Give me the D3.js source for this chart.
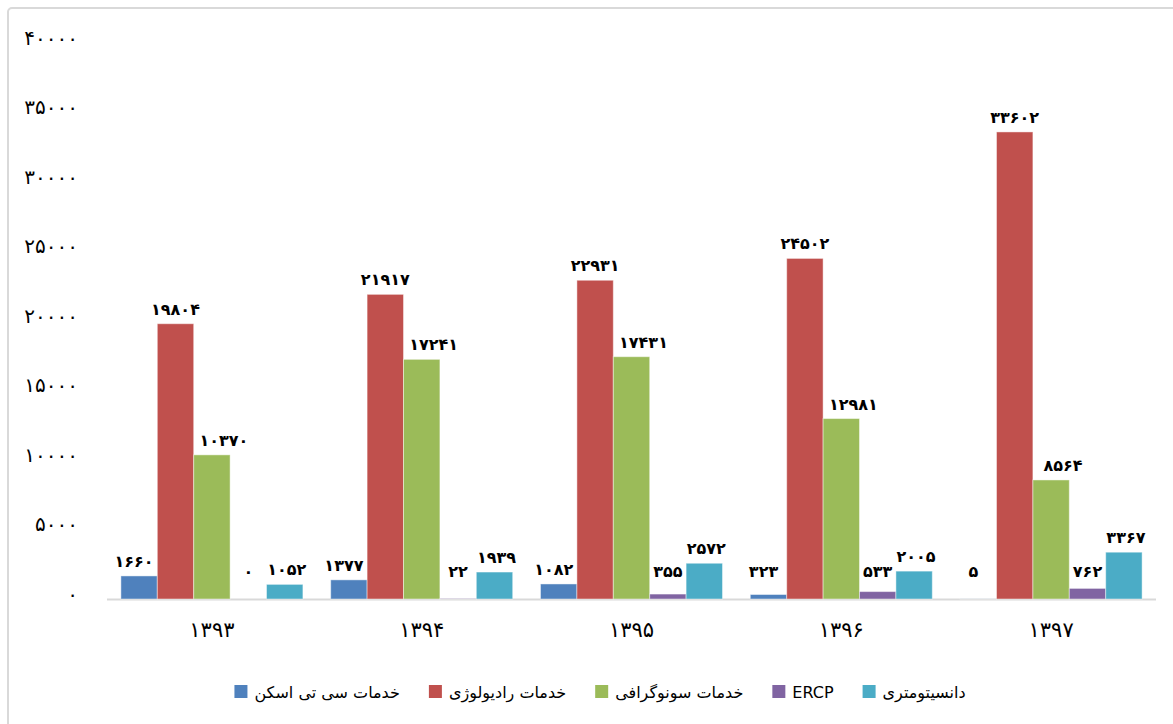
<!DOCTYPE html>
<html lang="fa">
<head>
<meta charset="utf-8">
<script src="https://cdn.jsdelivr.net/npm/d3@7/dist/d3.min.js"></script>
<style>
  html, body { margin: 0; padding: 0; background: #fff; }
  svg { display: block; font-family: "DejaVu Sans", sans-serif; }
</style>
</head>
<body>
<svg id="chart" width="1173" height="724"></svg>
<script>
// Years (Solar Hijri) shown on the category axis
const years = ["۱۳۹۳", "۱۳۹۴", "۱۳۹۵", "۱۳۹۶", "۱۳۹۷"];

// Service names, in legend / bar order
const seriesNames = [
  "خدمات سی تی اسکن",
  "خدمات رادیولوژی",
  "خدمات سونوگرافی",
  "ERCP",
  "دانسیتومتری"
];

// Number of services delivered per year, one array per service
const ctScan      = [1660, 1377, 1082, 323, 5];
const radiology   = [19804, 21917, 22931, 24502, 33602];
const sonography  = [10370, 17241, 17431, 12981, 8564];
const ercp        = [0, 22, 355, 533, 762];
const densitometry = [1052, 1939, 2572, 2005, 3367];

// Value axis ticks
const yTicks = [0, 5000, 10000, 15000, 20000, 25000, 30000, 35000, 40000];

const seriesValues = [ctScan, radiology, sonography, ercp, densitometry];
const colors = ["#4F81BD", "#C0504D", "#9BBB59", "#8064A2", "#4BACC6"];
// small horizontal nudges for the value labels of each series
const labelNudge = [-5, 0, 12, 0, 2];

const toFa = n => String(n).replace(/\d/g, d => "۰۱۲۳۴۵۶۷۸۹"[d]);

const svg = d3.select("#chart");

// outer frame
svg.append("rect")
  .attr("x", 8).attr("y", 8)
  .attr("width", 1180).attr("height", 730)
  .attr("rx", 4)
  .attr("fill", "#fff")
  .attr("stroke", "#d9d9d9")
  .attr("stroke-width", 2);

const plot = { left: 107, right: 1156, top: 43, bottom: 599 };

const x0 = d3.scaleBand()
  .domain(years)
  .range([plot.left, plot.right])
  .paddingInner(0.1325)
  .paddingOuter(0.06625);

const x1 = d3.scaleBand()
  .domain(d3.range(seriesNames.length))
  .range([0, x0.bandwidth()]);

const y = d3.scaleLinear()
  .domain([0, 40000])
  .range([plot.bottom, plot.top]);

// value axis labels (no line, no ticks)
const yAxis = d3.axisLeft(y)
  .tickValues(yTicks)
  .tickSize(0)
  .tickPadding(0)
  .tickFormat(toFa);

svg.append("g")
  .attr("transform", "translate(78,-5)")
  .call(yAxis)
  .call(g => g.select(".domain").remove())
  .call(g => g.selectAll("text")
    .attr("font-family", "DejaVu Sans")
    .attr("font-size", 20)
    .attr("fill", "#000"));

// category axis baseline and labels
const xAxis = d3.axisBottom(x0).tickSize(0).tickPadding(0);
svg.append("g")
  .attr("transform", `translate(0,${plot.bottom})`)
  .call(xAxis)
  .call(g => g.select(".domain")
    .attr("d", `M${plot.left},0.5H${plot.right}`)
    .attr("stroke", "#d9d9d9")
    .attr("stroke-width", 2))
  .call(g => g.selectAll("text")
    .attr("font-family", "DejaVu Sans")
    .attr("font-size", 21)
    .attr("fill", "#000")
    .attr("dy", null)
    .attr("y", 31)
    .attr("dominant-baseline", "central"));

// bars
const rows = years.map((yr, i) => ({
  year: yr,
  values: seriesValues.map((arr, s) => ({ s, v: arr[i] }))
}));

const groups = svg.append("g")
  .selectAll("g")
  .data(rows)
  .join("g")
  .attr("transform", d => `translate(${x0(d.year)},0)`);

groups.selectAll("rect")
  .data(d => d.values)
  .join("rect")
  .attr("x", d => x1(d.s))
  .attr("y", d => y(d.v))
  .attr("width", x1.bandwidth())
  .attr("height", d => y(0) - y(d.v))
  .attr("fill", d => colors[d.s])
  .attr("stroke", "#ffffff")
  .attr("stroke-opacity", 0.45)
  .attr("stroke-width", 1);

// value labels
groups.selectAll("text")
  .data(d => d.values)
  .join("text")
  .attr("x", d => x1(d.s) + x1.bandwidth() / 2 + labelNudge[d.s])
  .attr("y", d => Math.min(y(d.v) - 9, plot.bottom - 22))
  .attr("text-anchor", "middle")
  .attr("font-family", "DejaVu Sans")
  .attr("font-weight", "bold")
  .attr("font-size", 16)
  .attr("fill", "#000")
  .text(d => toFa(d.v));

// legend, laid out left to right and centred under the plot
const legend = svg.append("g").attr("transform", "translate(0,692)");
const items = legend.selectAll("g")
  .data(seriesNames)
  .join("g");

items.append("rect")
  .attr("width", 13).attr("height", 13)
  .attr("y", -7)
  .attr("fill", (d, i) => colors[i]);

items.append("text")
  .attr("x", 20)
  .attr("y", 0)
  .attr("dominant-baseline", "central")
  .attr("font-family", "DejaVu Sans")
  .attr("font-size", 16)
  .attr("fill", "#000")
  .text(d => d);

const gap = 29;
const widths = [];
items.each(function () {
  widths.push(20 + this.querySelector("text").getComputedTextLength());
});
const total = d3.sum(widths) + gap * (widths.length - 1);
let cx = 600 - total / 2;
items.attr("transform", (d, i) => {
  const t = `translate(${cx},0)`;
  cx += widths[i] + gap;
  return t;
});
</script>
</body>
</html>
